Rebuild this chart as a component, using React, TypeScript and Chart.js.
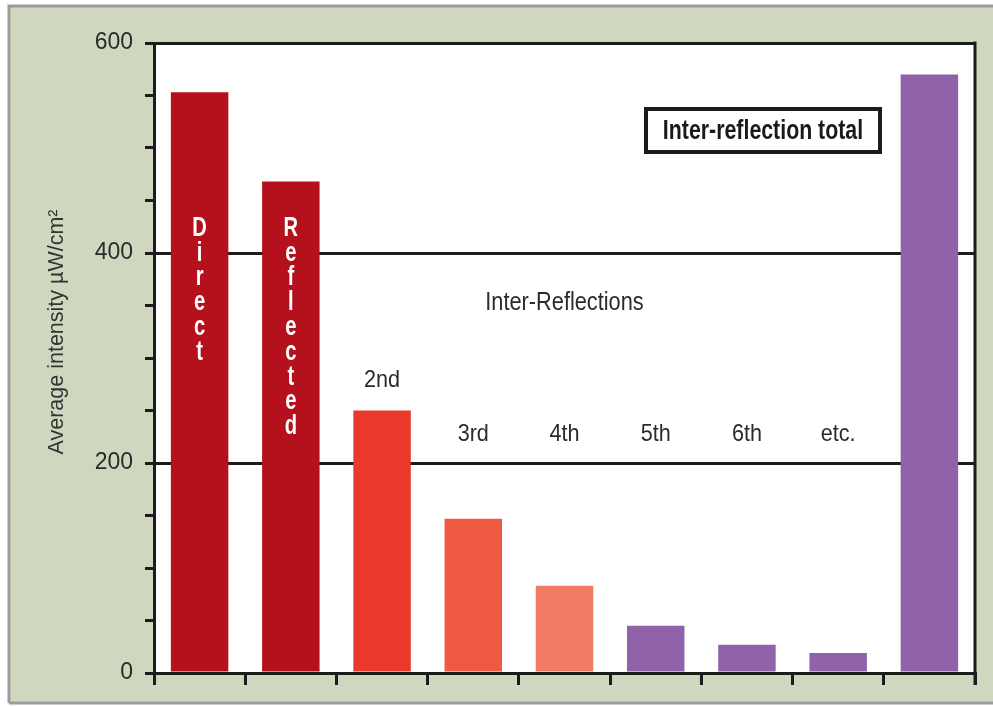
import React, { useEffect, useRef } from 'react';
import { Chart, registerables } from 'chart.js';

Chart.register(...registerables);

// Bars, left to right
const categories = ['Direct', 'Reflected', '2nd', '3rd', '4th', '5th', '6th', 'etc.', 'Inter-reflection total'];
const intensity = [553, 468, 250, 147, 83, 45, 27, 19, 570];
const barColors = ['#b5111c', '#b5111c', '#e8392b', '#ee5a42', '#f07b62', '#8f62a9', '#8f62a9', '#8f62a9', '#8f62a9'];

// Text written down the first two bars
const verticalLabels = ['Direct', 'Reflected'];
// Order labels for the inter-reflection bars (categories 2..7)
const orderLabels = ['2nd', '3rd', '4th', '5th', '6th', 'etc.'];
const orderLabelLevel = 227;
const groupHeading = 'Inter-Reflections';
const groupHeadingLevel = 352;
const totalCaption = 'Inter-reflection total';

// Y axis
const yMin = 0;
const yMax = 600;
const yStep = 50;
const labeledTicks = [0, 200, 400, 600];
const ruledValues = [200, 400, 600];
const yTitle = 'Average intensity µW/cm²';

const SANS = "'Liberation Sans', Arial, Helvetica, sans-serif";
const INK = '#1c1c1c';
const SAGE = '#cfd8bf';

// Draws text squeezed horizontally to imitate a condensed face
function narrowText(ctx: CanvasRenderingContext2D, text: string, x: number, y: number, font: string, squeeze: number) {
  ctx.save();
  ctx.font = font;
  ctx.textAlign = 'center';
  ctx.textBaseline = 'middle';
  ctx.translate(x, y);
  ctx.scale(squeeze, 1);
  ctx.fillText(text, 0, 0);
  ctx.restore();
}

const framePlugin = {
  id: 'frame',
  beforeDraw(chart: any) {
    const { ctx, width, height, chartArea } = chart;
    ctx.save();
    ctx.fillStyle = '#ffffff';
    ctx.fillRect(0, 0, width, height);
    ctx.fillStyle = SAGE;
    ctx.fillRect(9, 6, width - 9, height - 9);
    ctx.strokeStyle = '#9c9c9c';
    ctx.lineWidth = 3;
    ctx.beginPath();
    ctx.moveTo(9, height - 3);
    ctx.lineTo(9, 6);
    ctx.lineTo(width, 6);
    ctx.moveTo(9, height - 3);
    ctx.lineTo(width, height - 3);
    ctx.stroke();
    ctx.fillStyle = '#ffffff';
    ctx.fillRect(chartArea.left, chartArea.top, chartArea.right - chartArea.left, chartArea.bottom - chartArea.top);
    ctx.restore();
  },
  afterDraw(chart: any) {
    const { ctx, chartArea } = chart;
    const x = chart.scales.x;
    const y = chart.scales.y;
    ctx.save();

    // right-hand frame line
    ctx.strokeStyle = INK;
    ctx.lineWidth = 3;
    ctx.beginPath();
    ctx.moveTo(chartArea.right, chartArea.top - 1.5);
    ctx.lineTo(chartArea.right, chartArea.bottom + 12);
    ctx.stroke();

    // y axis title
    ctx.save();
    ctx.translate(57, (chartArea.top + chartArea.bottom) / 2 - 26);
    ctx.rotate(-Math.PI / 2);
    ctx.fillStyle = '#333333';
    narrowText(ctx, yTitle, 0, 0, `21.5px ${SANS}`, 1.0);
    ctx.restore();

    // letters stacked down the Direct and Reflected bars
    ctx.fillStyle = '#ffffff';
    verticalLabels.forEach((word, i) => {
      const cx = x.getPixelForValue(i);
      const startY = chartArea.top + 185;
      word.split('').forEach((ch, k) => {
        narrowText(ctx, ch, cx, startY + k * 24.8, `bold 28px ${SANS}`, 0.72);
      });
    });

    // order labels
    ctx.fillStyle = '#2b2b2b';
    orderLabels.forEach((lab, k) => {
      const idx = k + 2;
      const level = Math.max(orderLabelLevel, intensity[idx] + 29);
      narrowText(ctx, lab, x.getPixelForValue(idx), y.getPixelForValue(level), `24px ${SANS}`, 0.9);
    });

    // group heading
    narrowText(ctx, groupHeading, x.getPixelForValue(4), y.getPixelForValue(groupHeadingLevel), `25px ${SANS}`, 0.87);

    // boxed caption for the total bar
    const bx = chartArea.left + 492;
    const by = chartArea.top + 66;
    const bw = 234;
    const bh = 43;
    ctx.fillStyle = '#ffffff';
    ctx.fillRect(bx, by, bw, bh);
    ctx.strokeStyle = INK;
    ctx.lineWidth = 4;
    ctx.strokeRect(bx, by, bw, bh);
    ctx.fillStyle = '#1a1a1a';
    narrowText(ctx, totalCaption, bx + bw / 2, by + bh / 2 + 1, `bold 27px ${SANS}`, 0.79);

    ctx.restore();
  },
};

export default function App() {
  const canvasRef = useRef<HTMLCanvasElement | null>(null);

  useEffect(() => {
    const canvas = canvasRef.current;
    if (!canvas) return;
    const chart = new Chart(canvas, {
      type: 'bar',
      data: {
        labels: categories,
        datasets: [
          {
            data: intensity,
            backgroundColor: barColors,
            borderWidth: 0,
            barPercentage: 0.63,
            categoryPercentage: 1,
          },
        ],
      },
      options: {
        responsive: false,
        animation: false,
        devicePixelRatio: 1,
        layout: { padding: { top: 43, right: 18, left: 0, bottom: 0 } },
        plugins: {
          legend: { display: false },
          tooltip: { enabled: false },
        },
        scales: {
          x: {
            type: 'category',
            offset: true,
            grid: {
              offset: true,
              drawOnChartArea: false,
              drawTicks: true,
              tickLength: 12,
              tickColor: INK,
              lineWidth: 3,
            },
            border: { display: true, color: INK, width: 3 },
            ticks: { display: false },
            afterFit(scale: any) {
              scale.height = 33;
            },
          },
          y: {
            min: yMin,
            max: yMax,
            ticks: {
              stepSize: yStep,
              autoSkip: false,
              padding: 12,
              color: '#2a2a2a',
              font: { family: SANS, size: 23 },
              callback: (v: any) => (labeledTicks.includes(Number(v)) ? String(v) : ''),
            },
            grid: {
              color: (c: any) => (ruledValues.includes(c.tick?.value) ? INK : 'rgba(0,0,0,0)'),
              tickColor: INK,
              lineWidth: 3,
              tickLength: 9,
            },
            border: { display: true, color: INK, width: 3 },
            afterFit(scale: any) {
              scale.width = 154;
            },
          },
        },
      },
      plugins: [framePlugin],
    });
    return () => chart.destroy();
  }, []);

  return (
    <div style={{ position: 'absolute', left: 0, top: 0, width: 993, height: 706 }}>
      <canvas ref={canvasRef} width={993} height={706} style={{ display: 'block' }} />
    </div>
  );
}
